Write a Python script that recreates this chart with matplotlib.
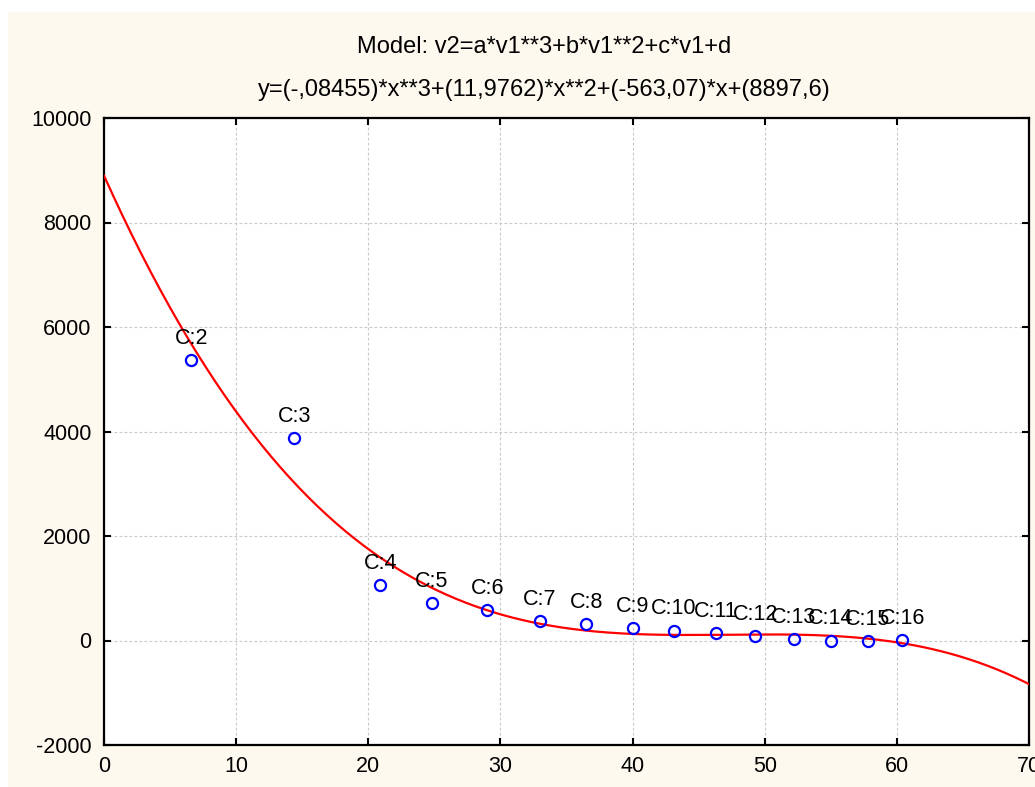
import numpy as np
import matplotlib.pyplot as plt
from matplotlib.patches import Rectangle

# case labels and measured values (v1, v2)
labels = ["C:2", "C:3", "C:4", "C:5", "C:6", "C:7", "C:8", "C:9",
          "C:10", "C:11", "C:12", "C:13", "C:14", "C:15", "C:16"]
v1 = [6.6, 14.4, 20.9, 24.8, 29.0, 33.0, 36.5, 40.0,
      43.1, 46.3, 49.3, 52.2, 55.0, 57.8, 60.4]
v2 = [5370, 3870, 1065, 725, 575, 365, 312, 235,
      190, 140, 88, 36, 0, -8, 10]

# fitted cubic model coefficients (a, b, c, d) from the title
coefs = [-0.08455, 11.9762, -563.07, 8897.6]

plt.rcParams['font.family'] = ['Liberation Sans', 'DejaVu Sans']
plt.rcParams['axes.unicode_minus'] = False

fig = plt.figure(figsize=(10.35, 7.87), dpi=100, facecolor='white')
fig.patches.append(Rectangle((8 / 1035, 0), 1, 1 - 12 / 787, transform=fig.transFigure,
                             facecolor='#fdf9ef', edgecolor='none', zorder=-10))

ax = fig.add_axes([104 / 1035, 1 - 745 / 787, 925 / 1035, 627 / 787])
ax.set_facecolor('white')

xs = np.linspace(0, 70, 400)
ax.plot(xs, np.polyval(coefs, xs), color='red', lw=1.6, zorder=3)
ax.plot(v1, v2, 'o', mfc='none', mec='blue', ms=8, mew=1.6, zorder=4)
for lab, x, y in zip(labels, v1, v2):
    ax.annotate(lab, (x, y), xytext=(0, 8), textcoords='offset points',
                ha='center', va='bottom', fontsize=15.5, zorder=5)

ax.set_xlim(0, 70)
ax.set_ylim(-2000, 10000)
ax.set_xticks(range(0, 71, 10))
ax.set_yticks(range(-2000, 10001, 2000))
ax.grid(True, color='#c8c8c8', ls=(0, (2.5, 2)), lw=0.8)
ax.tick_params(direction='in', top=True, right=True, length=5, width=1.5,
               labelsize=15.5)
ax.tick_params(axis='x', pad=8)
ax.tick_params(axis='y', pad=9)
for s in ax.spines.values():
    s.set_linewidth(1.6)

fig.text(544 / 1035, 1 - 47 / 787, "Model: v2=a*v1**3+b*v1**2+c*v1+d",
         ha='center', va='center', fontsize=17)
fig.text(544 / 1035, 1 - 90 / 787,
         "y=(-,08455)*x**3+(11,9762)*x**2+(-563,07)*x+(8897,6)",
         ha='center', va='center', fontsize=17)

fig.savefig("out.png", dpi=100, facecolor=fig.get_facecolor())
